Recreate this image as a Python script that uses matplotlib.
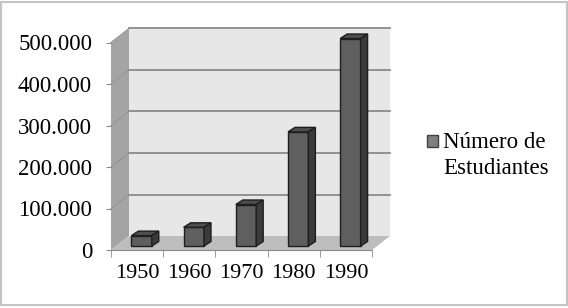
import matplotlib
matplotlib.use("Agg")
import matplotlib.pyplot as plt
from matplotlib.patches import Polygon, Rectangle
from matplotlib.ticker import FuncFormatter, FixedLocator
import numpy as np

# data
years = ['1950', '1960', '1970', '1980', '1990']
students = [25000, 45000, 100000, 275000, 500000]
y_ticks = [0, 100000, 200000, 300000, 400000, 500000]
series_name = ['Número de', 'Estudiantes']

plt.rcParams['font.family'] = ['Liberation Serif', 'DejaVu Serif']

W, H = 568, 308
fig = plt.figure(figsize=(W / 100, H / 100), dpi=100)

# outer chart border
fig.patches.append(Rectangle((1 / W, 3.5 / H), 565.5 / W, 303 / H,
                             transform=fig.transFigure, fill=False,
                             ec='#c4c4c4', lw=1.5))

ax = fig.add_axes([111 / W, (H - 250) / H, 261 / W, 207.5 / H])
x = np.arange(1, len(years) + 1)
ax.set_xlim(0.5, len(years) + 0.5)
ax.set_ylim(0, y_ticks[-1])


def px_to_data(dx, dy):
    # convert a pixel offset to a data offset (axes are linear)
    a = ax.transData.transform((0, 0))
    b = ax.transData.inverted().transform(a + np.array([dx, dy]))
    return b[0], b[1]


wx, wy = px_to_data(18, 14)     # wall depth
sx, sy = px_to_data(4.5, 4)     # bar plane shift
bx, by = px_to_data(7, 4.5)     # bar depth
bw = 0.39

x0, x1 = 0.5, len(years) + 0.5
ytop = y_ticks[-1]

# back wall, side wall, floor
ax.add_patch(Rectangle((x0 + wx, wy), x1 - x0, ytop, fc='#e7e7e7', ec='none',
                       clip_on=False, zorder=0))
ax.add_patch(Polygon([(x0, 0), (x0 + wx, wy), (x0 + wx, ytop + wy), (x0, ytop)],
                     fc='#a4a4a4', ec='none', clip_on=False, zorder=0.5))
ax.add_patch(Polygon([(x0, 0), (x1, 0), (x1 + wx, wy), (x0 + wx, wy)],
                     fc='#bdbdbd', ec='none', clip_on=False, zorder=0.5))

# gridlines on walls
for t in y_ticks[1:]:
    ax.plot([x0 + wx, x1 + wx], [t + wy, t + wy], color='#8a8a8a', lw=1.3,
            clip_on=False, zorder=1)
    ax.plot([x0, x0 + wx], [t, t + wy], color='#969696', lw=0.8,
            clip_on=False, zorder=1)

# bars: front faces
bars = ax.bar(x + sx, students, width=bw, bottom=sy, color='#5f5f5f',
              edgecolor='#1e1e1e', linewidth=1, zorder=3)

# top and side faces
for b in bars:
    b.set_clip_on(False)
    left = b.get_x()
    right = left + b.get_width()
    base = b.get_y()
    top = base + b.get_height()
    ax.add_patch(Polygon([(left, top), (right, top), (right + bx, top + by),
                          (left + bx, top + by)], fc='#4e4e4e',
                         ec='#1e1e1e', lw=1, clip_on=False, zorder=3))
    ax.add_patch(Polygon([(right, base), (right + bx, base + by),
                          (right + bx, top + by), (right, top)], fc='#3b3b3b',
                         ec='#1e1e1e', lw=1, clip_on=False, zorder=3))

# axes styling
for s in ['top', 'right', 'left']:
    ax.spines[s].set_visible(False)
ax.spines['bottom'].set_color('#8a8a8a')
ax.spines['bottom'].set_zorder(2)

ax.set_yticks(y_ticks)
ax.yaxis.set_major_formatter(FuncFormatter(
    lambda v, p: f"{v:,.0f}".replace(",", ".")))
ax.tick_params(axis='y', length=3.6, color='#8a8a8a', pad=10, labelsize=16.5)

ax.set_xticks(x)
ax.set_xticklabels(years)
ax.xaxis.set_minor_locator(FixedLocator(np.arange(x0, x1 + 0.5, 1)))
ax.tick_params(axis='x', which='major', length=0, pad=10, labelsize=16)
ax.tick_params(axis='x', which='minor', length=5, color='#8a8a8a')

# legend
fig.patches.append(Rectangle((427 / W, (H - 146.5) / H), 11 / W, 11.5 / H,
                             transform=fig.transFigure, fc='#7f7f7f',
                             ec='#404040', lw=1))
fig.text(443 / W, (H - 148) / H, series_name[0], fontsize=16.5, va='baseline')
fig.text(443 / W, (H - 174) / H, series_name[1], fontsize=16.5, va='baseline')

fig.savefig('out.png', dpi=100)
